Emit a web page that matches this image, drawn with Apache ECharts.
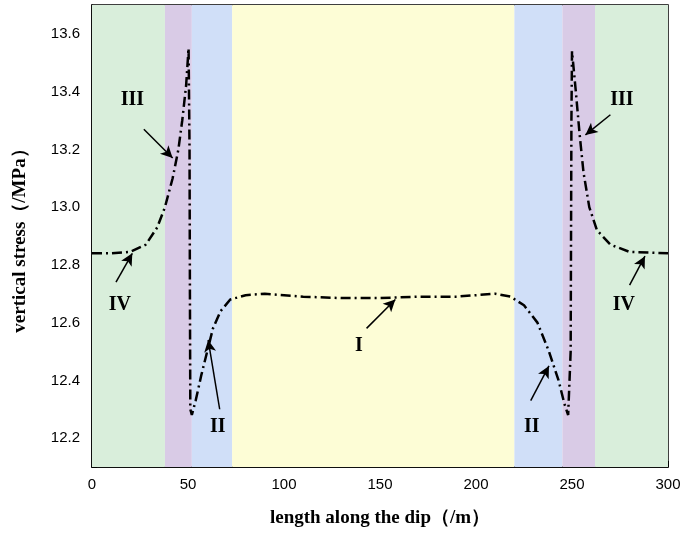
<!DOCTYPE html>
<html>
<head>
<meta charset="utf-8">
<script src="https://cdn.jsdelivr.net/npm/echarts@6/dist/echarts.min.js"></script>
</head>
<body style="margin:0">
<div id="main" style="width:685px;height:535px;"></div>
<script type="text/javascript">
// stress curve along the dip
var stressPts = [
  [0,12.84],[10,12.84],[20,12.845],[28,12.87],[34,12.93],[38,13.0],[42,13.1],[45,13.2],
  [47,13.3],[49,13.42],[50.3,13.55],[50.8,13.2],[51,12.7],[51.2,12.3],[52,12.28],[54,12.33],
  [57,12.42],[60,12.5],[63,12.58],[67,12.64],[72,12.68],[80,12.695],[90,12.70],[110,12.69],
  [130,12.685],[150,12.685],[170,12.69],[190,12.69],[210,12.70],[218,12.69],[225,12.66],
  [232,12.6],[238,12.5],[243,12.4],[246,12.32],[248,12.28],[249.3,12.5],[249.7,13.3],
  [250,13.54],[252,13.4],[254,13.25],[256,13.12],[259,13.0],[263,12.92],[270,12.87],
  [280,12.845],[300,12.84]
];
// zones: [start, end, colour]
var zones = [
  [0,38,'#d9eedb'],[38,52,'#d9cbe6'],[52,73,'#d0dff8'],[73,220,'#fdfdd6'],
  [220,245,'#d0dff8'],[245,262,'#d9cbe6'],[262,300,'#d9eedb']
];
// annotations: [text, labelX, labelY, tailX, tailY, headX, headY]
var notes = [
  ['III',21,13.37,27,13.27,42,13.17],
  ['IV',14.5,12.66,12.5,12.74,21,12.84],
  ['II',65.5,12.24,66.5,12.30,60.5,12.54],
  ['I',139,12.52,143,12.58,158,12.68],
  ['II',229,12.24,228.5,12.33,238,12.45],
  ['III',276,13.37,270,13.32,257,13.25],
  ['IV',277,12.66,280,12.73,288,12.83]
];
var xTicks = {min:0, max:300, interval:50};

var serif = 'Liberation Serif';
var myChart = echarts.init(document.getElementById('main'));
var option = {
  animation: false,
  grid: {left:92, right:17, top:5, bottom:68, show:true, borderColor:'#000', borderWidth:1.5},
  xAxis: {
    type:'value', min:xTicks.min, max:xTicks.max, interval:xTicks.interval,
    name:'length along the dip（/m）', nameLocation:'middle', nameGap:42,
    nameTextStyle:{fontFamily:serif, fontWeight:'bold', fontSize:19, color:'#000'},
    axisLine:{lineStyle:{color:'#000', width:1.5}},
    axisTick:{inside:true, length:6, lineStyle:{color:'#000'}},
    minorTick:{show:true, splitNumber:2, length:3, lineStyle:{color:'#000'}},
    splitLine:{show:false},
    axisLabel:{fontFamily:'Liberation Sans', fontSize:15, color:'#000', margin:10}
  },
  yAxis: {
    type:'value', min:12.1, max:13.7, interval:0.1,
    name:'vertical stress（/MPa）', nameLocation:'middle', nameGap:62,
    nameTextStyle:{fontFamily:serif, fontWeight:'bold', fontSize:19, color:'#000'},
    axisLine:{show:true, lineStyle:{color:'#000', width:1.5}},
    axisTick:{inside:true, length:5, lineStyle:{color:'#000'}},
    splitLine:{show:false},
    axisLabel:{fontFamily:'Liberation Sans', fontSize:15, color:'#000', margin:12,
      formatter:function(v){ var k=Math.round(v*10); return (k%2===0 && k>=122 && k<=136) ? (k/10).toFixed(1) : ''; }}
  },
  series: [
    {
      type:'line', data:stressPts, showSymbol:false, symbol:'none', z:5,
      lineStyle:{color:'#000', width:2.5, type:[10,4,2,4]},
      markArea:{silent:true, data:zones.map(function(z){
        return [{xAxis:z[0], itemStyle:{color:z[2], opacity:1}}, {xAxis:z[1]}];
      })}
    },
    {
      type:'line', data:[], z:6,
      markLine:{silent:true, symbol:['none','arrow'], symbolSize:[9,12],
        lineStyle:{color:'#000', width:1.5, type:'solid', opacity:1}, label:{show:false},
        data:notes.map(function(n){ return [{coord:[n[3],n[4]]},{coord:[n[5],n[6]]}]; })}
    },
    {
      type:'scatter', symbolSize:1, z:7, silent:true,
      itemStyle:{color:'rgba(0,0,0,0)', opacity:1},
      data:notes.map(function(n){ return {value:[n[1],n[2]], name:n[0]}; }),
      label:{show:true, position:'inside', formatter:'{b}', color:'#000', opacity:1,
        fontFamily:serif, fontWeight:'bold', fontSize:20}
    }
  ]
};
myChart.setOption(option);
</script>
</body>
</html>
